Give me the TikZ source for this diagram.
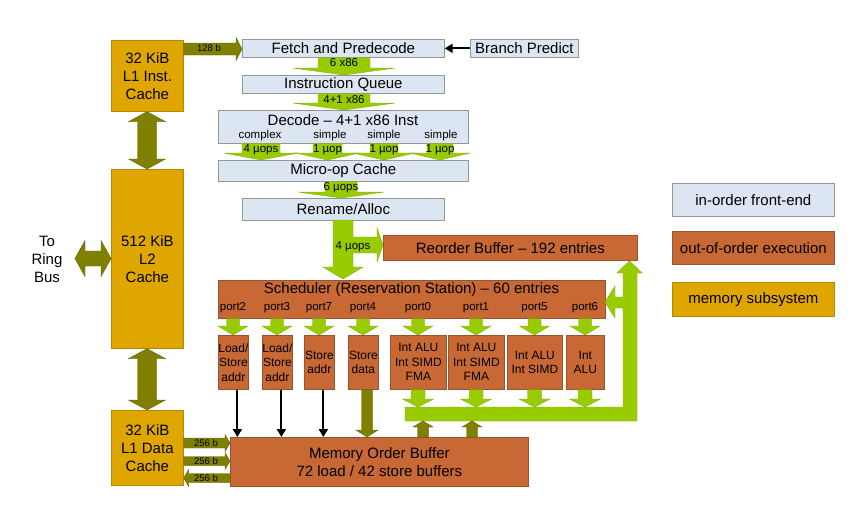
\documentclass[tikz,border=0pt]{standalone}
\usepackage{fontspec}
\setmainfont{Liberation Sans}
\usetikzlibrary{calc,arrows.meta}
\definecolor{fefill}{RGB}{220,230,242}
\definecolor{feline}{RGB}{150,150,150}
\definecolor{oofill}{RGB}{200,104,52}
\definecolor{ooline}{RGB}{150,85,50}
\definecolor{memfill}{RGB}{224,166,0}
\definecolor{memline}{RGB}{180,135,0}
\definecolor{olv}{RGB}{128,128,0}
\definecolor{olvline}{RGB}{95,95,0}
\definecolor{grn}{RGB}{153,204,0}
\definecolor{grnline}{RGB}{125,175,0}
\newcommand\fsz[2]{\fontsize{#1}{#2}\selectfont}
\tikzset{
 boxbase/.style={anchor=north west, inner sep=0pt, line width=0.7pt, align=center},
 fe/.style={boxbase, draw=feline, fill=fefill, font=\fsz{15}{18}},
 oo/.style={boxbase, draw=ooline, fill=oofill, font=\fsz{15}{18}},
 unit/.style={boxbase, draw=ooline, fill=oofill, font=\fsz{12}{14.5}},
 mem/.style={boxbase, draw=memline, fill=memfill, font=\fsz{15}{18}},
 garr/.style={fill=grn, draw=grnline, line width=0.4pt},
 oarr/.style={fill=olv, draw=olvline, line width=0.4pt},
 blk/.style={line width=2pt, -{Triangle[length=8pt,width=9pt]}},
 lbl/.style={font=\fsz{11.5}{13}, inner sep=0pt},
 slbl/.style={font=\fsz{9.5}{11}, inner sep=0pt},
 big/.style={font=\fsz{15}{18}, inner sep=0pt, align=center},
}
\newcommand\bx[7]{\node[#1, minimum width={(#5-#3)*1pt}, minimum height={(#6-#4)*1pt}] (#2) at (#3,#4) {#7};}
% vertical block arrow: style, from, to, xc, bodyhalf, headhalf, headlen
\newcommand\vblk[7]{%
 \path[#1] let \p1=(#2), \p2=(#3), \n1={ifthenelse(\y2>\y1,1,-1)} in
 ({(#4-#5)*1pt},\y1) -- ({(#4-#5)*1pt},{\y2-(\n1)*(#7pt)}) -- ({(#4-#6)*1pt},{\y2-(\n1)*(#7pt)})
 -- ({#4*1pt},\y2) -- ({(#4+#6)*1pt},{\y2-(\n1)*(#7pt)}) -- ({(#4+#5)*1pt},{\y2-(\n1)*(#7pt)})
 -- ({(#4+#5)*1pt},\y1) -- cycle;}
% horizontal block arrow: style, from, to, yc, bodyhalf, headhalf, headlen
\newcommand\hblk[7]{%
 \path[#1] let \p1=(#2), \p2=(#3), \n1={ifthenelse(\x2>\x1,1,-1)} in
 (\x1,{-(#4+#5)*1pt}) -- ({\x2-(\n1)*(#7pt)},{-(#4+#5)*1pt}) -- ({\x2-(\n1)*(#7pt)},{-(#4+#6)*1pt})
 -- (\x2,{-#4*1pt}) -- ({\x2-(\n1)*(#7pt)},{-(#4-#6)*1pt}) -- ({\x2-(\n1)*(#7pt)},{-(#4-#5)*1pt})
 -- (\x1,{-(#4-#5)*1pt}) -- cycle;}
% vertical double arrow (from upper to lower)
\newcommand\vdbl[7]{%
 \path[#1] let \p1=(#2), \p2=(#3) in
 ({#4*1pt},\y1) -- ({(#4+#6)*1pt},{\y1-#7pt}) -- ({(#4+#5)*1pt},{\y1-#7pt}) -- ({(#4+#5)*1pt},{\y2+#7pt})
 -- ({(#4+#6)*1pt},{\y2+#7pt}) -- ({#4*1pt},\y2) -- ({(#4-#6)*1pt},{\y2+#7pt}) -- ({(#4-#5)*1pt},{\y2+#7pt})
 -- ({(#4-#5)*1pt},{\y1-#7pt}) -- ({(#4-#6)*1pt},{\y1-#7pt}) -- cycle;}
% horizontal double arrow (from left to right)
\newcommand\hdbl[7]{%
 \path[#1] let \p1=(#2), \p2=(#3) in
 (\x1,{-#4*1pt}) -- ({\x1+#7pt},{-(#4-#6)*1pt}) -- ({\x1+#7pt},{-(#4-#5)*1pt}) -- ({\x2-#7pt},{-(#4-#5)*1pt})
 -- ({\x2-#7pt},{-(#4-#6)*1pt}) -- (\x2,{-#4*1pt}) -- ({\x2-#7pt},{-(#4+#6)*1pt}) -- ({\x2-#7pt},{-(#4+#5)*1pt})
 -- ({\x1+#7pt},{-(#4+#5)*1pt}) -- ({\x1+#7pt},{-(#4+#6)*1pt}) -- cycle;}
\begin{document}
\begin{tikzpicture}[x=1pt,y=-1pt]
\useasboundingbox[fill=white] (0,0) rectangle (850,506);
% memory subsystem
\bx{mem}{l1i}{111}{40}{183}{111}{32 KiB\\L1 Inst.\\Cache}
\bx{mem}{l2}{111}{169}{183}{348}{512 KiB\\L2\\Cache}
\bx{mem}{l1d}{111}{410}{183}{485}{32 KiB\\L1 Data\\Cache}
\node[big] (ring) at (47,259) {To\\Ring\\Bus};
\coordinate (rb) at (75,258.5);
% front end
\bx{fe}{fetch}{242}{39}{444}{57}{Fetch and Predecode}
\bx{fe}{bp}{470}{39}{578}{57}{Branch Predict}
\bx{fe}{iq}{242}{75}{444}{93}{Instruction Queue}
\bx{fe}{dec}{218}{110}{468}{143}{}
\node[big] (dect) at (343,120) {Decode – 4+1 x86 Inst};
\node[lbl] (dc1) at (260,136) {complex};
\node[lbl] (dc2) at (330,136) {simple};
\node[lbl] (dc3) at (384,136) {simple};
\node[lbl] (dc4) at (441,136) {simple};
\bx{fe}{uc}{218}{160}{468}{181}{Micro-op Cache}
\bx{fe}{ren}{242}{198}{444}{220}{Rename/Alloc}
% out of order
\bx{oo}{rob}{383}{235}{637}{260}{Reorder Buffer – 192 entries}
\bx{oo}{sch}{218}{280}{605}{318}{}
\node[big] (scht) at (411.5,289.5) {Scheduler (Reservation Station) – 60 entries};
\foreach \cc/\pp in {233/port2, 277/port3, 319/port7, 363/port4, 418/port0, 476/port1, 534.5/port5, 585/port6}
  {\node[lbl] (\pp) at (\cc,308) {\pp};}
\bx{unit}{u1}{218}{335}{248}{389}{Load/\\Store\\addr}
\bx{unit}{u2}{262}{335}{292}{389}{Load/\\Store\\addr}
\bx{unit}{u3}{304}{335}{334}{389}{Store\\addr}
\bx{unit}{u4}{348}{335}{378}{389}{Store\\data}
\bx{unit}{u5}{390}{335}{446}{389}{Int ALU\\Int SIMD\\FMA}
\bx{unit}{u6}{448}{335}{504}{389}{Int ALU\\Int SIMD\\FMA}
\bx{unit}{u7}{507}{335}{562}{389}{Int ALU\\Int SIMD}
\bx{unit}{u8}{566}{335}{604}{389}{Int\\ALU}
\bx{oo}{mob}{230}{437}{528}{486}{Memory Order Buffer\\72 load / 42 store buffers}
% legend
\bx{fe}{lg1}{672}{183}{834}{216}{in-order front-end}
\bx{oo}{lg2}{672}{231}{834}{264}{out-of-order execution}
\bx{mem}{lg3}{672}{282}{834}{316}{memory subsystem}
% memory arrows
\vdbl{oarr}{l1i.south}{l2.north}{147}{9.5}{18.5}{10}
\vdbl{oarr}{l2.south}{l1d.north}{147}{9.5}{18.5}{10}
\hdbl{oarr}{rb}{l2.west}{258.5}{7.5}{18}{10}
\hblk{oarr}{l1i.east}{fetch.west}{49}{6}{11.5}{6}
\node[slbl] at (209,48.5) {128 b};
\hblk{oarr}{l1d.east}{mob.west}{443}{5}{8.5}{5}
\hblk{oarr}{l1d.east}{mob.west}{461}{4.5}{8.5}{5}
\hblk{oarr}{mob.west}{l1d.east}{478}{4.5}{8.5}{5}
\node[slbl] at (206,443) {256 b};
\node[slbl] at (206,461) {256 b};
\node[slbl] at (206,478) {256 b};
% front-end arrows
\draw[blk] (bp.west) -- (fetch.east);
\vblk{garr}{fetch.south}{iq.north}{344}{26}{51}{7}
\node[lbl] at (344,63) {6 x86};
\vblk{garr}{iq.south}{dec.north}{344}{26}{51}{7}
\node[lbl] at (344,100) {4+1 x86};
\vblk{garr}{dec.south}{uc.north}{261}{19}{37}{7}
\vblk{garr}{dec.south}{uc.north}{327.5}{14.5}{32}{7}
\vblk{garr}{dec.south}{uc.north}{384}{14}{31}{7}
\vblk{garr}{dec.south}{uc.north}{440}{13}{30}{7}
\node[lbl] at (261,150) {4 µops};
\node[lbl] at (327.5,150) {1 µop};
\node[lbl] at (384,150) {1 µop};
\node[lbl] at (440,150) {1 µop};
\vblk{garr}{uc.south}{ren.north}{341}{16}{43}{6}
\node[lbl] at (341,188) {6 µops};
% rename -> scheduler and ROB
\draw[garr] (333,220) -- (333,267) -- (323,267) -- (343,279) -- (363,267) -- (353,267) -- (353,253)
  -- (377,253) -- (377,262) -- (383,245) -- (377,228) -- (377,237) -- (353,237) -- (353,220) -- cycle;
\node[lbl] at (353,247) {4 µops};
% ports -> units
\foreach \cc/\uu in {233/u1, 277/u2, 319/u3, 363/u4, 418/u5, 476/u6, 534.5/u7, 585/u8}
  {\vblk{garr}{sch.south}{\uu.north}{\cc}{6.5}{15}{9}}
% result bar and feedback
\coordinate (bart) at (405,407);
\coordinate (barb) at (405,421);
\draw[garr] (405,421) -- (637,421) -- (637,273) -- (642,273) -- (629.5,261) -- (617,273) -- (623,273)
  -- (623,297) -- (615,297) -- (615,286) -- (605,302) -- (615,318) -- (615,308) -- (623,308)
  -- (623,407) -- (405,407) -- cycle;
\foreach \cc/\uu in {418/u5, 476/u6, 534.5/u7, 585/u8}
  {\vblk{garr}{\uu.south}{bart}{\cc}{7}{15.5}{8}}
% load/store paths
\foreach \uu in {u1,u2,u3}
  {\draw[blk] let \p1=(\uu.south), \p2=(mob.north) in (\x1+4pt,\y1) -- (\x1+4pt,\y2);}
\vblk{oarr}{u4.south}{mob.north}{367}{5.5}{11}{7}
\vblk{oarr}{mob.north}{barb}{423}{5.5}{10}{6}
\vblk{oarr}{mob.north}{barb}{472}{5.5}{10}{6}
\end{tikzpicture}
\end{document}
